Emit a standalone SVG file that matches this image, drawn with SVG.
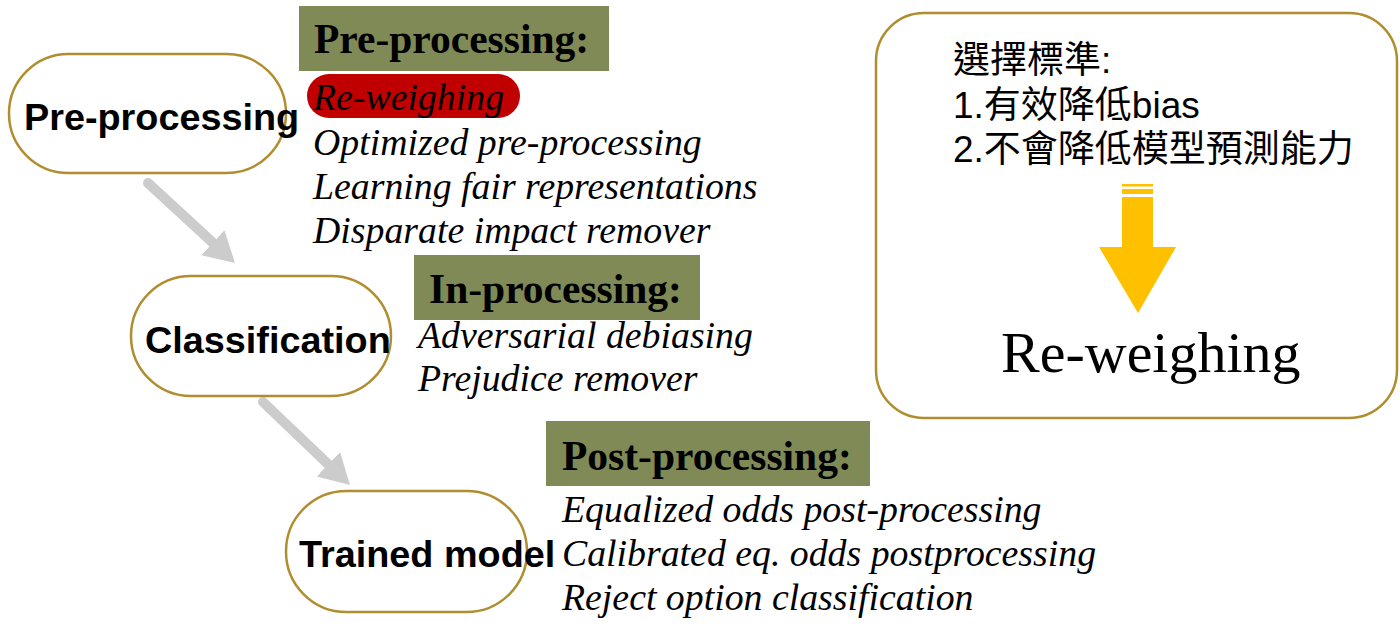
<svg xmlns="http://www.w3.org/2000/svg" width="1400" height="641" viewBox="0 0 1400 641">
  <style>
    .pill { fill: #ffffff; stroke: #B08D2E; stroke-width: 2.5; }
    .nodeText { font-family: "Liberation Sans", Arial, sans-serif; font-weight: bold; font-size: 37.8px; fill: #000; }
    .hdrBox { fill: #7F8A56; }
    .hdrText { font-family: "Liberation Serif", "Times New Roman", serif; font-weight: bold; font-size: 41.5px; fill: #000; }
    .item { font-family: "Liberation Serif", "Times New Roman", serif; font-style: italic; font-size: 37.8px; fill: #000; }
    .conn { stroke: #CCCCCC; stroke-width: 10; stroke-linecap: round; fill: none; }
    .cjk { font-family: "Liberation Sans", "Noto Sans CJK TC", sans-serif; font-size: 37px; fill: #000; }
  </style>
  <defs>
    <marker id="grayHead" markerUnits="userSpaceOnUse" markerWidth="32" markerHeight="36" refX="0" refY="17" orient="auto">
      <path d="M0,0 L30,17 L0,34 z" fill="#CCCCCC"/>
    </marker>
  </defs>
  <rect width="1400" height="641" fill="#ffffff"/>

  <g id="connectors">
    <line class="conn" x1="148" y1="183" x2="212.9" y2="242.7" marker-end="url(#grayHead)"/>
    <line class="conn" x1="263" y1="402" x2="328.3" y2="464.3" marker-end="url(#grayHead)"/>
  </g>

  <g id="node-preprocessing">
    <rect class="pill" x="9" y="54" width="277" height="119" rx="59.5"/>
    <text class="nodeText" x="24" y="130">Pre-processing</text>
  </g>

  <g id="node-classification">
    <rect class="pill" x="131" y="276" width="260" height="120" rx="60"/>
    <text class="nodeText" x="145" y="353">Classification</text>
  </g>

  <g id="node-trained">
    <rect class="pill" x="286" y="491" width="241" height="121" rx="60.5"/>
    <text class="nodeText" x="299" y="567">Trained model</text>
  </g>

  <g id="list-pre">
    <rect class="hdrBox" x="299" y="6" width="310" height="65"/>
    <text class="hdrText" x="314" y="53">Pre-processing:</text>
    <rect x="307" y="74" width="213" height="44" rx="22" fill="#C00000"/>
    <text class="item" x="313" y="110">Re-weighing</text>
    <text class="item" x="313" y="155">Optimized pre-processing</text>
    <text class="item" x="313" y="199">Learning fair representations</text>
    <text class="item" x="313" y="243">Disparate impact remover</text>
  </g>

  <g id="list-in">
    <rect class="hdrBox" x="414" y="255" width="286" height="65"/>
    <text class="hdrText" x="429" y="303">In-processing:</text>
    <text class="item" x="418" y="348">Adversarial debiasing</text>
    <text class="item" x="418" y="391">Prejudice remover</text>
  </g>

  <g id="list-post">
    <rect class="hdrBox" x="546" y="421" width="324" height="65"/>
    <text class="hdrText" x="562" y="470">Post-processing:</text>
    <text class="item" x="562" y="522">Equalized odds post-processing</text>
    <text class="item" x="562" y="566">Calibrated eq. odds postprocessing</text>
    <text class="item" x="562" y="610">Reject option classification</text>
  </g>

  <g id="node-criteria">
    <rect x="876" y="13" width="521" height="405" rx="48" fill="#ffffff" stroke="#B08D2E" stroke-width="2.5"/>
    <text class="cjk" x="953" y="73">選擇標準:</text>
    <text class="cjk" x="953" y="118">1.有效降低bias</text>
    <text class="cjk" x="953" y="162">2.不會降低模型預測能力</text>
    <g fill="#FFC000">
      <rect x="1122" y="184" width="31" height="2.5"/>
      <rect x="1122" y="189" width="31" height="5"/>
      <polygon points="1122,197 1153,197 1153,247 1176,247 1138,313 1099,247 1122,247"/>
    </g>
    <text x="1001" y="372" font-family="Liberation Serif, 'Times New Roman', serif" font-size="58" fill="#000">Re-weighing</text>
  </g>
</svg>
